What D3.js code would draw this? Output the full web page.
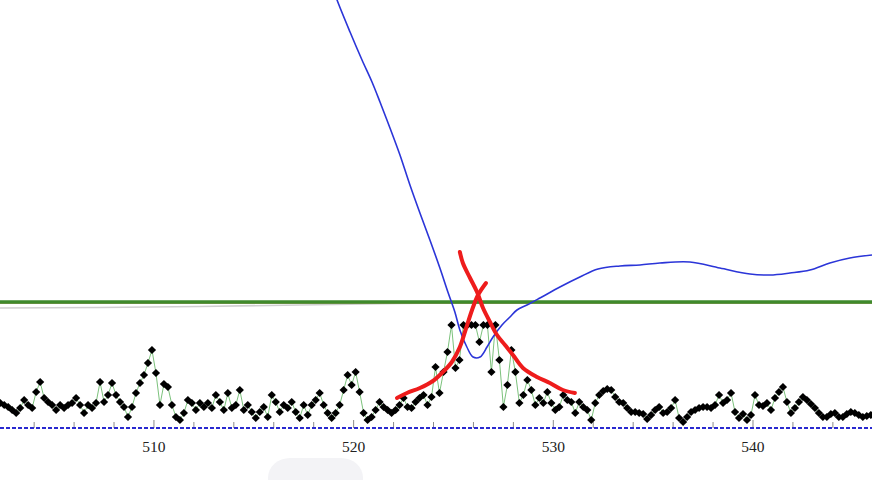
<!DOCTYPE html>
<html><head><meta charset="utf-8">
<script src="https://cdn.jsdelivr.net/npm/d3@7"></script>
<style>html,body{margin:0;padding:0;background:#fff;}svg{display:block;}</style>
</head><body>
<svg id="chart" width="872" height="480"></svg>
<script>
// ---- data ----
const xStart = 502.3, xStep = 0.2;
const intensity = [25,23,21,18,15,20,28,23,20,36,46,30,26,23,18,23,20,23,25,30,
23,15,23,20,25,46,26,33,45,33,26,21,11,21,35,45,53,65,78,55,
23,44,41,23,11,8,15,28,25,18,25,21,25,20,33,26,18,35,20,23,
38,18,23,16,10,16,21,11,33,26,16,23,20,26,16,10,23,13,23,28,
35,23,15,10,15,23,38,53,43,56,36,15,8,11,18,26,21,18,15,18,
23,30,21,20,26,30,33,23,31,61,35,56,76,103,60,68,103,103,103,103,
86,103,103,56,103,68,21,43,78,56,25,33,48,38,23,30,25,36,25,18,
21,33,28,26,15,26,21,18,8,25,33,37,39,38,31,26,25,20,16,16,
15,14,9,13,18,21,15,16,20,28,10,6,11,16,18,20,21,21,20,23,
33,25,28,35,16,10,14,8,13,33,23,22,25,18,30,36,41,26,15,20,
26,31,28,24,20,15,11,11,14,15,11,11,14,16,15,13,11,12,13];
const blueX = [518.97,519.17,519.82,520.42,520.92,521.32,521.82,522.32,522.82,523.32,523.82,524.32,524.72,525.07,525.32,525.67,525.98,526.33,526.68,526.98,527.43,527.83,528.18,528.68,529.33,530.33,531.33,532.24,533.34,534.34,535.34,536.84,538.34,539.85,540.85,541.85,542.85,543.85,544.85,545.96];
const blueY = [440,428,396,368,346,326,300,273,243,215,188,160,136,116,98,81,71,71,81,91,103,111,118,123,130,141,151,159,162,163,165,166,160,154,153,155,158,165,170,173];
const greenLevel = 126;
const greyX = [502.29,507.3,512.3,517.3,522.3,525.0];
const greyY = [120,120.5,121.5,123,124.5,125];
const redLeftX = [522.17,522.67,523.32,523.97,524.47,524.92,525.32,525.62,525.93,526.23,526.63];
const redLeftY = [30,35,40,47,56,66,81,99,118,133,145];
const redRightX = [525.32,525.47,525.83,526.18,526.48,526.83,527.18,527.58,527.98,528.48,529.18,529.83,530.48,531.08];
const redRightY = [176,165,150,136,120,106,93,83,73,60,51,45,38,35];
const majorTicks = [510,520,530,540];
const minorTicks = [504,506,508,512,514,516,518,522,524,526,528,532,534,536,538,542,544];

// ---- drawing ----
const W = 872, H = 480;
const svg = d3.select('#chart');
const x = d3.scaleLinear().domain([502.29, 545.96]).range([0, W]);
const y = d3.scaleLinear().domain([0, 428]).range([428, 0]);

// faint background blob
svg.append('rect').attr('x', 268).attr('y', 458).attr('width', 95).attr('height', 40)
  .attr('rx', 22).attr('fill', '#f3f3f6');

// grey and green level lines
const lineXY = d3.line().x(d => x(d[0])).y(d => y(d[1]));
svg.append('path').datum(greyX.map((v,i)=>[v,greyY[i]]))
  .attr('d', lineXY).attr('fill','none').attr('stroke','#cfcfcf').attr('stroke-width',1.6);
svg.append('line').attr('x1',0).attr('x2',W).attr('y1',y(greenLevel)+1.5).attr('y2',y(greenLevel)+1.5)
  .attr('stroke','#c9a27a').attr('stroke-width',1.2);
svg.append('line').attr('x1',0).attr('x2',W).attr('y1',y(greenLevel)).attr('y2',y(greenLevel))
  .attr('stroke','#3f8a2c').attr('stroke-width',3.4);

// axis
const axisG = svg.append('g');
axisG.selectAll('line.minor').data(minorTicks).join('line')
  .attr('x1', d=>x(d)).attr('x2', d=>x(d)).attr('y1', 422).attr('y2', 428)
  .attr('stroke','#8a8a8a').attr('stroke-width',1);
axisG.selectAll('line.major').data(majorTicks).join('line')
  .attr('x1', d=>x(d)).attr('x2', d=>x(d)).attr('y1', 420).attr('y2', 428)
  .attr('stroke','#8a8a8a').attr('stroke-width',1);
axisG.append('line').attr('x1',0).attr('x2',W).attr('y1',y(0)).attr('y2',y(0))
  .attr('stroke','#2a2ad0').attr('stroke-width',2).attr('stroke-dasharray','4,2');
axisG.selectAll('text').data(majorTicks).join('text')
  .attr('x', d=>x(d)).attr('y', 452).attr('text-anchor','middle')
  .attr('font-family','"Liberation Serif", "DejaVu Serif", serif').attr('font-size',15.5)
  .attr('fill','#222').text(d=>d);

// data series
const pts = intensity.map((v,i)=>[xStart + i*xStep, v]);
svg.append('path').datum(pts).attr('d', lineXY).attr('fill','none')
  .attr('stroke','#7cc27c').attr('stroke-width',1);
const sym = d3.symbol().type(d3.symbolSquare).size(34);
svg.append('g').selectAll('path').data(pts).join('path')
  .attr('d', sym)
  .attr('transform', d=>`translate(${x(d[0])},${y(d[1])}) rotate(45)`)
  .attr('fill','#000');

// blue curve
svg.append('path').datum(blueX.map((v,i)=>[v,blueY[i]]))
  .attr('d', d3.line().x(d=>x(d[0])).y(d=>y(d[1])).curve(d3.curveCatmullRom))
  .attr('fill','none').attr('stroke','#2b35d8').attr('stroke-width',1.6);

// red hand-drawn strokes
const redLine = d3.line().x(d=>x(d[0])).y(d=>y(d[1])).curve(d3.curveCatmullRom);
svg.append('path').datum(redLeftX.map((v,i)=>[v,redLeftY[i]]))
  .attr('d', redLine).attr('fill','none').attr('stroke','#ee1c1c').attr('stroke-width',4)
  .attr('stroke-linecap','round');
svg.append('path').datum(redRightX.map((v,i)=>[v,redRightY[i]]))
  .attr('d', redLine).attr('fill','none').attr('stroke','#ee1c1c').attr('stroke-width',4)
  .attr('stroke-linecap','round');
</script>
</body></html>
